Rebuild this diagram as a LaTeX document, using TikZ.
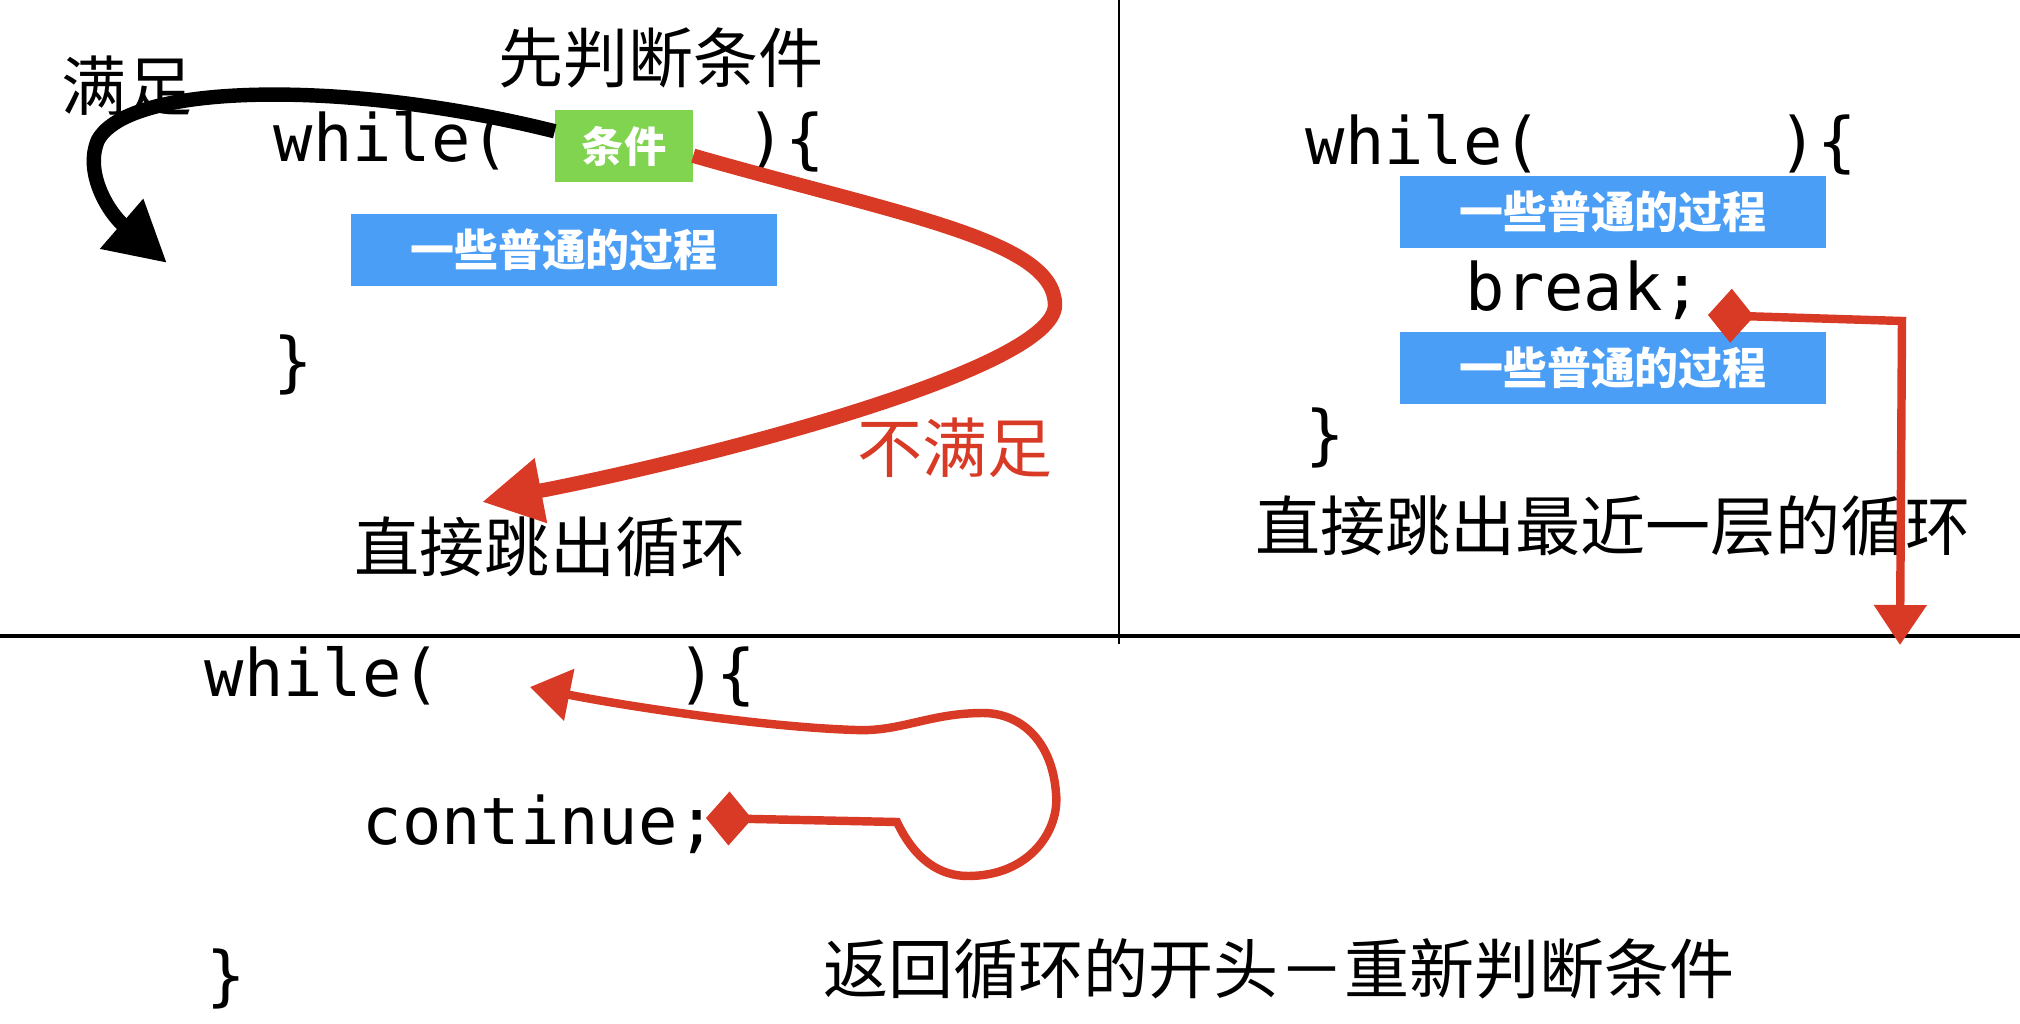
\documentclass[tikz,border=0pt]{standalone}
\usepackage{fontspec}
\usepackage{tikz}
\usetikzlibrary{arrows.meta,positioning}
\newfontfamily\cjk{Noto Sans CJK SC}
\newfontfamily\codefont{DejaVu Sans Mono}
\definecolor{loopred}{RGB}{216,58,38}
\definecolor{condgreen}{RGB}{128,212,80}
\definecolor{procblue}{RGB}{74,158,246}

\begin{document}
\begin{tikzpicture}[x=0.01cm, y=-0.01cm,
  code/.style={font=\codefont\fontsize{18.6pt}{22pt}\selectfont, inner sep=0pt, anchor=base west},
  note/.style={font=\cjk\fontsize{18.5pt}{22pt}\selectfont, inner sep=0pt},
  proc/.style={fill=procblue, text=white, font=\cjk\bfseries\fontsize{12.5pt}{15pt}\selectfont, minimum width=4.26cm, minimum height=0.72cm, inner sep=0pt},
  cond/.style={fill=condgreen, text=white, font=\cjk\bfseries\fontsize{12pt}{15pt}\selectfont, minimum width=1.37cm, minimum height=0.71cm, inner sep=0pt},
  bigarr/.style={line width=4.1pt, -{Triangle[length=6mm,width=6.2mm]}},
  jump/.style={loopred, line width=2.4pt, {Diamond[length=4.6mm,width=5.4mm]}-{Triangle[length=4mm,width=5.1mm]}}
]
\useasboundingbox (0,0) rectangle (2020,1024);

% dividers
\coordinate (hl) at (0,636);
\coordinate (hr) at (2020,636);
\coordinate (vt) at (1119,0);
\coordinate (vb) at (1119,644);
\draw[line width=1.2pt] (hl) -- (hr);
\draw[line width=0.8pt] (vt) -- (vb);

% while: check first
\node[note] (check) at (661,58) {先判断条件};
\node[note] (yes) at (127,86) {满足};
\node[code] (w1) at (273,161) {while(\phantom{000000})\{};
\node[cond] (c1) at (624,146) {条件};
\node[proc] (p1) at (564,250) {一些普通的过程};
\node[code] (e1) at (273,384) {\}};
\node[note, text=loopred] (no) at (955,448) {不满足};
\node[note] (out1) at (550,547) {直接跳出循环};
\coordinate (yesto) at (167,263);
\coordinate (noto) at (482,502);
\draw[bigarr, black] (c1.168) .. controls (350,80) and (130,82) .. (98,140) .. controls (84,172) and (108,212) .. (yesto);
\draw[bigarr, loopred] (c1.-8) .. controls (900,215) and (1055,240) .. (1055,305) .. controls (1055,370) and (700,460) .. (noto);

% break
\node[code] (w2) at (1305,164) {while(\phantom{000000})\{};
\node[proc] (p2) at (1613,212) {一些普通的过程};
\node[code] (brk) at (1465,310) {break;};
\node[proc] (p3) at (1613,368) {一些普通的过程};
\node[code] (e2) at (1305,457) {\}};
\node[note] (out2) at (1613,526) {直接跳出最近一层的循环};
\coordinate (brkfrom) at (1708,315);
\coordinate (brkto) at (1900,645);
\draw[jump] (brkfrom) -- (1902,321) -- (brkto);

% continue
\node[code] (w3) at (204,696) {while(\phantom{000000})\{};
\node[code] (cont) at (362,844) {continue;};
\node[code] (e3) at (206,998) {\}};
\node[note] (back) at (1279,969) {返回循环的开头－重新判断条件};
\coordinate (contfrom) at (706,818);
\coordinate (contto) at (530,687);
\draw[jump] (contfrom) -- (897,822) .. controls (915,860) and (940,876) .. (968,876) .. controls (1030,876) and (1060,830) .. (1056,793) .. controls (1052,740) and (1020,713) .. (983,713) .. controls (930,713) and (900,732) .. (856,730) .. controls (760,727) and (620,705) .. (contto);
\end{tikzpicture}
\end{document}
